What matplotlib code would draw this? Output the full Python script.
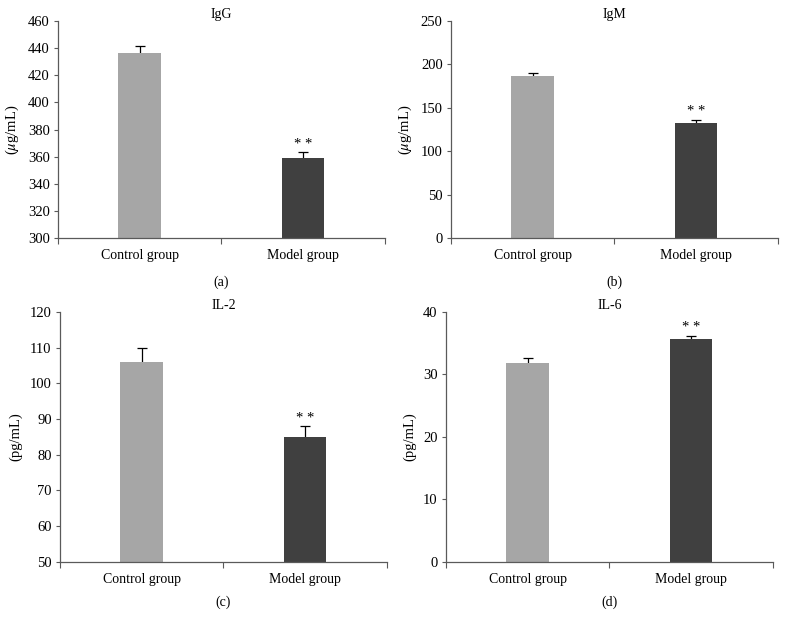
import matplotlib
matplotlib.use("Agg")
import matplotlib.pyplot as plt

plt.rcParams['font.family'] = ['Liberation Serif', 'DejaVu Serif']
plt.rcParams['mathtext.fontset'] = 'stix'

groups = ["Control group", "Model group"]
titles = ["IgG", "IgM", "IL-2", "IL-6"]
panel_tags = ["(a)", "(b)", "(c)", "(d)"]
units = [r"($\mu$g/mL)", r"($\mu$g/mL)", "(pg/mL)", "(pg/mL)"]

igg_vals = [436.5, 359.0]
igg_err = [5.0, 4.5]
igm_vals = [187.0, 133.0]
igm_err = [3.5, 3.5]
il2_vals = [106.0, 85.0]
il2_err = [3.8, 3.0]
il6_vals = [31.8, 35.6]
il6_err = [0.9, 0.6]

values = [igg_vals, igm_vals, il2_vals, il6_vals]
errors = [igg_err, igm_err, il2_err, il6_err]
ylims = [(300, 460), (0, 250), (50, 120), (0, 40)]
ysteps = [20, 50, 10, 10]

bar_colors = ["#a6a6a6", "#404040"]
axis_color = "#5a5a5a"

fig = plt.figure(figsize=(7.86, 6.29), dpi=100)
rects = [
    [0.0738, 0.6216, 0.416, 0.345],
    [0.5738, 0.6216, 0.416, 0.345],
    [0.0763, 0.107, 0.416, 0.397],
    [0.5674, 0.107, 0.416, 0.397],
]
tag_y = [0.552, 0.552, 0.043, 0.043]

for i in range(4):
    ax = fig.add_axes(rects[i])
    x = [0, 1]
    # symmetric error bars drawn under the bars, so only the upper half shows
    ax.errorbar(x, values[i], yerr=errors[i], fmt="none",
                ecolor="black", elinewidth=0.9, capsize=3.5, capthick=0.9, zorder=1)
    ax.bar(x, values[i], width=0.26, color=bar_colors, zorder=2)
    top = values[i][1] + errors[i][1]
    ax.text(1, top + (ylims[i][1] - ylims[i][0]) * 0.006, "* *", ha="center",
            va="bottom", fontsize=10.5)

    lo, hi = ylims[i]
    ax.set_ylim(lo, hi)
    ax.set_xlim(-0.5, 1.5)
    ax.set_yticks(range(lo, hi + 1, ysteps[i]))
    ax.set_xticks([-0.5, 0.5, 1.5])
    ax.set_xticklabels([])
    ax.set_xticks(x, minor=True)
    ax.set_xticklabels(groups, minor=True)
    ax.tick_params(axis="x", which="minor", length=0, pad=8, labelsize=10)
    ax.tick_params(axis="x", which="major", length=4, color=axis_color, direction="out")
    ax.tick_params(axis="y", length=3, color=axis_color, labelsize=10.5, pad=3)

    for side in ["top", "right"]:
        ax.spines[side].set_visible(False)
    for side in ["left", "bottom"]:
        ax.spines[side].set_color(axis_color)
        ax.spines[side].set_linewidth(0.9)

    ax.set_ylabel(units[i], fontsize=10.5, labelpad=5)
    ax.set_title(titles[i], fontsize=10, pad=1)

    cx = rects[i][0] + rects[i][2] / 2
    fig.text(cx, tag_y[i], panel_tags[i], ha="center", va="center", fontsize=10)

fig.savefig("out.png", dpi=100)
